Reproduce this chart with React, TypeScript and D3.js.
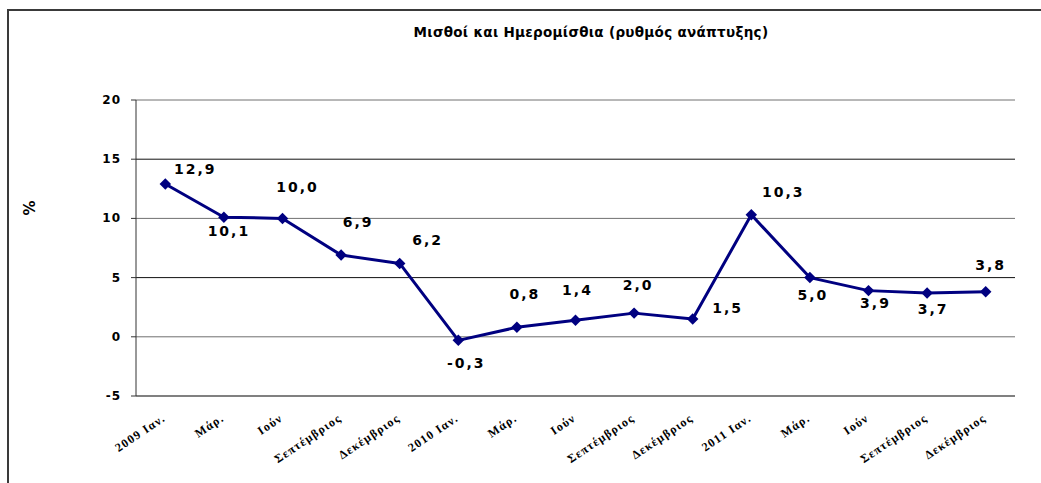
import * as d3 from 'd3';

const categories = [
  '2009 Ιαν.', 'Μάρ.', 'Ιούν', 'Σεπτέμβριος', 'Δεκέμβριος',
  '2010 Ιαν.', 'Μάρ.', 'Ιούν', 'Σεπτέμβριος', 'Δεκέμβριος',
  '2011 Ιαν.', 'Μάρ.', 'Ιούν', 'Σεπτέμβριος', 'Δεκέμβριος',
];
const values = [12.9, 10.1, 10.0, 6.9, 6.2, -0.3, 0.8, 1.4, 2.0, 1.5, 10.3, 5.0, 3.9, 3.7, 3.8];
const yTicks = [-5, 0, 5, 10, 15, 20];
// manual label offsets (dx, dy) from each marker, as in the original
const labelOffsets: [number, number][] = [
  [30, -15], [5, 14], [15, -31], [17, -33], [28, -23],
  [8, 23], [8, -33], [2, -30], [4, -28], [35, -11],
  [32, -23], [3, 17], [7, 12], [6, 16], [5, -27],
];

const title = 'Μισθοί και Ημερομίσθια (ρυθμός ανάπτυξης)';
const W = 1041;
const H = 483;
const margin = { left: 136, right: 1015, top: 100, bottom: 396 };
const font = '"DejaVu Sans", Verdana, sans-serif';

export default function App() {
  const x = d3.scaleBand<number>()
    .domain(categories.map((_, i) => i))
    .range([margin.left, margin.right]);
  const y = d3.scaleLinear().domain([-5, 20]).range([margin.bottom, margin.top]);
  const cx = (i: number) => (x(i) || 0) + x.bandwidth() / 2;

  const line = d3.line<number>()
    .x((_, i) => cx(i))
    .y(d => y(d));

  const marker = d3.symbol(d3.symbolSquare, 66)();
  const fmt = (v: number) => v.toFixed(1).replace('.', ',');

  return (
    <svg width={W} height={H} style={{ position: 'absolute', left: 0, top: 0, background: '#fff' }}>
      <rect x={8} y={10} width={1100} height={600} fill="#fff" stroke="#3a3a3a" strokeWidth={2} />

      <text x={591} y={32} textAnchor="middle" dominantBaseline="central"
        style={{ fontFamily: font, fontWeight: 'bold', fontSize: 13.5, letterSpacing: 0.3 }}>{title}</text>

      {/* gridlines */}
      {yTicks.map((t, i) => (
        <line key={t} x1={margin.left} x2={margin.right} y1={y(t)} y2={y(t)}
          stroke={t === -5 ? '#808080' : i % 2 === 0 ? '#111' : '#707070'}
          strokeWidth={t === -5 ? 2 : 1} />
      ))}
      {/* y axis */}
      <line x1={margin.left} x2={margin.left} y1={margin.top} y2={margin.bottom} stroke="#333" strokeWidth={1} />
      {yTicks.map(t => (
        <g key={'t' + t}>
          <line x1={margin.left - 5} x2={margin.left} y1={y(t)} y2={y(t)} stroke="#333" />
          <text x={121} y={y(t)} textAnchor="end" dominantBaseline="central"
            style={{ fontFamily: font, fontWeight: 'bold', fontSize: 12, letterSpacing: 1 }}>{t}</text>
        </g>
      ))}

      <text transform={`translate(30,208) rotate(-90)`} textAnchor="middle" dominantBaseline="central"
        style={{ fontFamily: font, fontWeight: 'bold', fontSize: 15 }}>%</text>

      {/* x labels */}
      {categories.map((c, i) => (
        <text key={'x' + i} transform={`translate(${cx(i) + 1},${margin.bottom + 24}) rotate(-34)`}
          textAnchor="end"
          style={{ fontFamily: '"Liberation Serif", "Times New Roman", serif', fontWeight: 'bold', fontSize: 12, letterSpacing: 1.2 }}>{c}</text>
      ))}

      <path d={line(values) || ''} fill="none" stroke="#000080" strokeWidth={3} strokeLinejoin="round" />
      {values.map((v, i) => (
        <path key={'m' + i} d={marker || ''} transform={`translate(${cx(i)},${y(v)}) rotate(45)`} fill="#000080" />
      ))}
      {values.map((v, i) => (
        <text key={'l' + i} x={cx(i) + labelOffsets[i][0]} y={y(v) + labelOffsets[i][1]}
          textAnchor="middle" dominantBaseline="central"
          style={{ fontFamily: font, fontWeight: 'bold', fontSize: 14, letterSpacing: 2 }}>{fmt(v)}</text>
      ))}
    </svg>
  );
}
